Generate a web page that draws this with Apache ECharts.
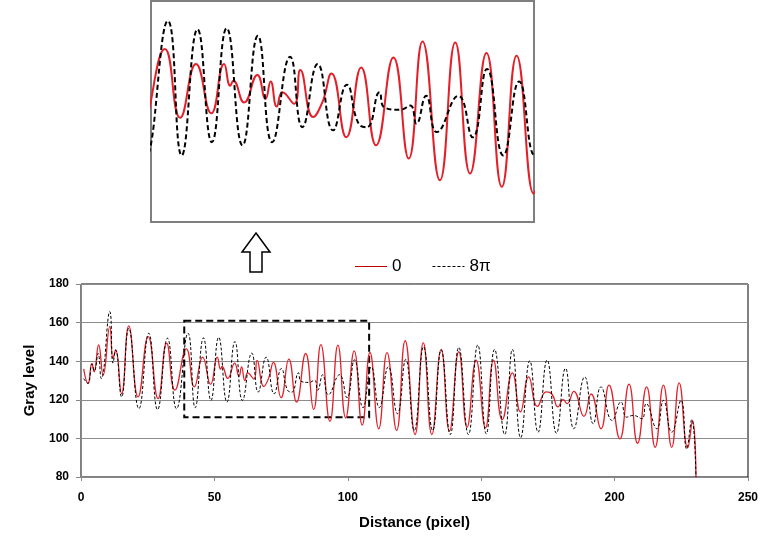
<!DOCTYPE html>
<html>
<head>
<meta charset="utf-8">
<script src="https://cdn.jsdelivr.net/npm/echarts@6/dist/echarts.min.js"></script>
<style>
  html, body { margin: 0; padding: 0; background: #fff; }
  #chart { width: 776px; height: 549px; }
</style>
</head>
<body>
<div id="chart"></div>
<script>
// phase 0 (red, solid)
const redDist = [1, 2.6, 4.1, 4.9, 6.6, 8.3, 10.8, 12, 13, 15.2, 17.9, 21.4, 25.2, 28.9, 32.1, 35.2,
  39.5, 42.5, 45.6, 48.6, 51.1, 52.3, 52.9, 55, 57.6, 59.2, 60.2, 61.4, 62.5, 64.8, 66, 68.5, 70.3, 72.1,
  75, 77.9, 80.8, 84.2, 87.2, 89.9, 93.3, 96.3, 99.2, 102.4, 105.4, 108.3, 111.6, 114.7, 118.3, 121.5,
  125.2, 128.3, 131.5, 135, 138.1, 141.6, 144.7, 148.1, 151.6, 154.6, 157.9, 161.7, 164.7, 167.8, 171.1,
  174.4, 176.5, 178.8, 180.7, 182.2, 184.7, 188.5, 191.2, 194.9, 197.9, 202, 205.4, 208.6, 212, 215.2,
  218.3, 221.4, 224.2, 227.4, 229.2, 230.5];
const redGray = [136, 128.4, 138.9, 134.5, 148.4, 132.8, 157.9, 141.5, 145.8, 123.2, 158.3, 121.5, 152.7, 120.6, 149.3, 125,
  146.4, 126.7, 142.1, 128, 142.1, 135.9, 137.3, 131.1, 139, 132.1, 137.1, 129.9, 134, 130.7, 140.4, 126.9, 131.1, 139.4,
  121.1, 141.1, 118.8, 144, 115, 148.6, 108.8, 148.3, 110.7, 145.3, 106.9, 144.5, 105, 144.4, 104.1, 150.6,
  102, 149.6, 102, 146.1, 103.8, 144.9, 105.8, 140.6, 105.5, 140.6, 109.7, 134, 113.7, 131.9, 116.6,
  124.1, 123, 116.3, 120.1, 118, 124.4, 111.4, 123, 105, 127.6, 99.8, 128.1, 97.5, 126.7, 95.4,
  127.6, 95.4, 128.8, 95.1, 109.3, 80];

// phase 8π (black, dashed)
const blackDist = [1, 2.6, 4.1, 5, 6.4, 7.6, 10.8, 12, 13, 15.2, 17.9, 21.7, 25.4, 28.7, 32.4, 35.8,
  40.1, 42.8, 45.9, 48.7, 51.6, 54.7, 57.7, 60.5, 64, 66.4, 69.4, 72.4, 75.1, 77.4, 79, 81.5, 82.4,
  85.5, 87.5, 88.7, 90.6, 92.7, 96.9, 99.7, 102.5, 105.7, 108.8, 111.8, 115.2, 118.6, 121.7, 124.9,
  128.4, 131.8, 135, 138.4, 141.6, 145.2, 148.7, 151.9, 155, 158.8, 161.7, 164.8, 168.2, 171.3, 174.7,
  178.2, 181.6, 184.7, 188.8, 192, 194.9, 199.1, 202.4, 204.5, 207, 210.2, 211.8, 215.8, 218.3, 221.4,
  224.9, 227, 228.9, 230.5];
const blackGray = [131, 128.5, 138.5, 135, 144, 131, 165.7, 139, 145.8, 121.5, 157, 115.4, 154.5, 114.9, 151.9, 115.4,
  154.5, 115.9, 152.1, 119.7, 152.4, 118.8, 150.2, 119.7, 144.2, 124, 142.1, 123.1, 136.2, 125, 124, 134, 129.7,
  129, 130.2, 125, 133, 122.6, 133, 121.1, 140.7, 115.9, 137.1, 116, 137.1, 112.8, 140.9, 104.1,
  147.5, 104.1, 145.8, 102, 147.2, 102, 148.4, 102.4, 146.1, 102, 146.1, 100.3, 140.2, 103.2, 140.6,
  102.7, 136.3, 105, 131.9, 107.6, 126.7, 109.3, 118.9, 111, 111.9, 110.2, 118, 105, 119.7, 103.2,
  119.7, 94.6, 109.7, 80];

// zoomed window shown in the inset (dashed box on the main plot)
const boxDist = [38.7, 108];
const boxGray = [161, 111];
const insetDist = [36.8, 111.7];
const insetGray = [96.8, 160.2];

const RED = '#e3202a';
const zip = (xs, ys) => xs.map((x, i) => [x, ys[i]]);
const redData = zip(redDist, redGray);
const blackData = zip(blackDist, blackGray);

const chart = echarts.init(document.getElementById('chart'));
const boldLabel = { color: '#000', fontFamily: 'Liberation Sans, Arial, sans-serif', fontWeight: 'bold', fontSize: 12 };

chart.setOption({
  animation: false,
  backgroundColor: '#fff',
  legend: {
    left: 350,
    top: 253,
    itemWidth: 32,
    itemHeight: 10,
    itemGap: 31,
    textStyle: { color: '#000', fontFamily: 'Liberation Sans, Arial, sans-serif', fontSize: 17 },
    data: [
      { name: '0', icon: 'path://M0,0 L32,0 L32,1 L0,1 Z', itemStyle: { color: '#c00000' } },
      { name: '8π', icon: 'path://M0,0 L3,0 L3,1 L0,1 Z M5,0 L8,0 L8,1 L5,1 Z M10,0 L13,0 L13,1 L10,1 Z M15,0 L18,0 L18,1 L15,1 Z M20,0 L23,0 L23,1 L20,1 Z M25,0 L28,0 L28,1 L25,1 Z M30,0 L32,0 L32,1 L30,1 Z', itemStyle: { color: '#000' } }
    ]
  },
  grid: [
    { left: 81, right: 28, top: 284, bottom: 72, show: true, borderColor: '#000', borderWidth: 1 },
    { left: 151, top: 1, width: 383, height: 221, show: true, borderColor: '#7f7f7f', borderWidth: 2 }
  ],
  xAxis: [
    {
      gridIndex: 0, type: 'value', min: 0, max: 250, interval: 50,
      name: 'Distance (pixel)', nameLocation: 'middle', nameGap: 38,
      nameTextStyle: { ...boldLabel, fontSize: 15 },
      axisLine: { show: true, onZero: false, lineStyle: { color: '#888' } },
      axisTick: { show: true, length: 4, lineStyle: { color: '#888' } },
      axisLabel: { ...boldLabel, margin: 15 },
      splitLine: { show: false }
    },
    { gridIndex: 1, type: 'value', min: insetDist[0], max: insetDist[1], show: false, splitLine: { show: false } }
  ],
  yAxis: [
    {
      gridIndex: 0, type: 'value', min: 80, max: 180, interval: 20,
      name: 'Gray level', nameLocation: 'middle', nameGap: 44,
      nameTextStyle: { ...boldLabel, fontSize: 15 },
      axisLine: { show: true, lineStyle: { color: '#888' } },
      axisTick: { show: true, length: 5, lineStyle: { color: '#888' } },
      axisLabel: { ...boldLabel, margin: 12 },
      splitLine: { show: true, lineStyle: { color: '#8c8c8c', width: 1 } }
    },
    { gridIndex: 1, type: 'value', min: insetGray[0], max: insetGray[1], show: false, splitLine: { show: false } }
  ],
  series: [
    {
      name: '0', type: 'line', xAxisIndex: 0, yAxisIndex: 0, data: redData,
      smooth: 0.5, showSymbol: false, symbol: 'none',
      lineStyle: { color: RED, width: 1.3 }, z: 3,
      markArea: {
        silent: true,
        itemStyle: { color: 'rgba(0,0,0,0)', borderColor: '#000', borderWidth: 2, borderType: [7, 4] },
        data: [[{ coord: [boxDist[0], boxGray[0]] }, { coord: [boxDist[1], boxGray[1]] }]]
      }
    },
    {
      name: '8π', type: 'line', xAxisIndex: 0, yAxisIndex: 0, data: blackData,
      smooth: 0.5, showSymbol: false, symbol: 'none',
      lineStyle: { color: '#000', width: 1, type: [3, 2] }, z: 4
    },
    {
      name: '0', type: 'line', xAxisIndex: 1, yAxisIndex: 1, data: redData,
      smooth: 0.5, showSymbol: false, symbol: 'none', clip: true,
      lineStyle: { color: RED, width: 2 }, z: 3
    },
    {
      name: '8π', type: 'line', xAxisIndex: 1, yAxisIndex: 1, data: blackData,
      smooth: 0.5, showSymbol: false, symbol: 'none', clip: true,
      lineStyle: { color: '#000', width: 2, type: [5, 3] }, z: 4
    }
  ],
  graphic: [
    {
      type: 'polygon',
      shape: { points: [[256, 233], [270, 252], [262, 252], [262, 272], [250, 272], [250, 252], [242, 252]] },
      style: { fill: '#fff', stroke: '#000', lineWidth: 1.5 }
    }
  ]
});
</script>
</body>
</html>
